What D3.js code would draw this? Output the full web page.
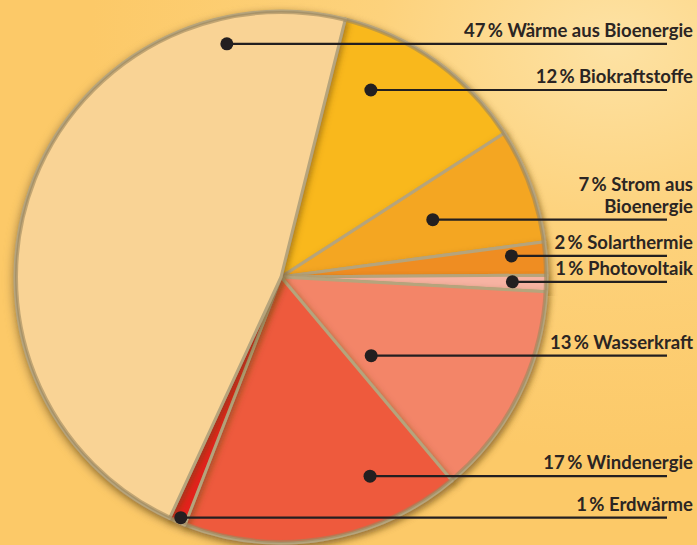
<!DOCTYPE html>
<html>
<head>
<meta charset="utf-8">
<script src="https://cdn.jsdelivr.net/npm/d3@7"></script>
<style>
  body { margin: 0; background: #fcca6a; }
  svg { display: block; }
</style>
</head>
<body>
<svg id="chart" width="697" height="545"></svg>
<script>
  var width = 697, height = 545

  // Anteile erneuerbarer Energien (Prozent), im Uhrzeigersinn ab 12 Uhr
  var sources = ["Biokraftstoffe", "Strom aus Bioenergie", "Solarthermie", "Photovoltaik",
                 "Wasserkraft", "Windenergie", "Erdwärme", "Wärme aus Bioenergie"]
  var shares = [12, 7, 2, 1, 13, 17, 1, 47]
  var colors = ["#f9b81b", "#f4a620", "#ef8d23", "#f7b3a2",
                "#f38567", "#ee5a3e", "#e3201b", "#f9d395"]
  // label text lines (Strom aus Bioenergie wraps)
  var labelLines = [["Biokraftstoffe"], ["Strom aus", "Bioenergie"], ["Solarthermie"], ["Photovoltaik"],
                    ["Wasserkraft"], ["Windenergie"], ["Erdwärme"], ["Wärme aus Bioenergie"]]

  // where the dot sits inside each slice: share of the slice angle, share of the radius
  var dotT = [0.27, 0.48, 0.33, 0.44, 0.81, 0.26, 0.39, 0.84]
  var dotR = [0.78, 0.61, 0.87, 0.87, 0.45, 0.82, 0.98, 0.90]

  var cx = 281, cy = 277, radius = 266
  var lineEnd = 667, textRight = 693

  var svg = d3.select("#chart")
  var defs = svg.append("defs")

  var bg = defs.append("radialGradient").attr("id", "bg")
    .attr("cx", "0.88").attr("cy", "0.08").attr("r", "0.75")
  bg.append("stop").attr("offset", "0").attr("stop-color", "#fde2a4")
  bg.append("stop").attr("offset", "0.45").attr("stop-color", "#fdd27c")
  bg.append("stop").attr("offset", "1").attr("stop-color", "#fcc968")

  var sh = defs.append("filter").attr("id", "shadow")
    .attr("x", "-20%").attr("y", "-20%").attr("width", "140%").attr("height", "140%")
  sh.append("feDropShadow").attr("dx", 2).attr("dy", 3).attr("stdDeviation", 3)
    .attr("flood-color", "#6b4a10").attr("flood-opacity", 0.55)

  var blur = defs.append("filter").attr("id", "blur")
    .attr("x", "-20%").attr("y", "-20%").attr("width", "140%").attr("height", "140%")
  blur.append("feGaussianBlur").attr("stdDeviation", 4)

  svg.append("rect").attr("width", width).attr("height", height).attr("fill", "url(#bg)")

  var pie = d3.pie().sort(null)
    .startAngle(14 * Math.PI / 180)
    .endAngle(14 * Math.PI / 180 + 2 * Math.PI)

  var arc = d3.arc().innerRadius(0).outerRadius(radius)

  var arcs = pie(shares)

  var g = svg.append("g").attr("transform", "translate(" + cx + "," + cy + ")")

  // soft shadow under the whole disc
  g.append("circle").attr("r", radius + 2).attr("cx", -2).attr("cy", 3)
    .attr("fill", "#a8864a").attr("opacity", 0.6)
    .attr("filter", "url(#blur)")

  g.selectAll("path.slice")
    .data(arcs)
    .enter()
    .append("path")
    .attr("class", "slice")
    .attr("d", arc)
    .attr("fill", function(d, i) { return colors[i] })
    .attr("stroke", "#b6a47c")
    .attr("stroke-width", 3)
    .attr("stroke-linejoin", "round")
    .attr("filter", "url(#shadow)")

  // dark rim along the outer edge
  g.append("circle").attr("r", radius - 1.5).attr("fill", "none")
    .attr("stroke", "#9c875e").attr("stroke-width", 3).attr("opacity", 0.6)

  function dotPos(d, i) {
    var a = d.startAngle + dotT[i] * (d.endAngle - d.startAngle)
    var r = dotR[i] * radius
    return [cx + r * Math.sin(a), cy - r * Math.cos(a)]
  }

  var labels = svg.append("g")
  arcs.forEach(function(d, i) {
    var p = dotPos(d, i)
    labels.append("line")
      .attr("x1", p[0]).attr("y1", p[1])
      .attr("x2", lineEnd).attr("y2", p[1])
      .attr("stroke", "#231f20").attr("stroke-width", 2.2)
    labels.append("circle")
      .attr("cx", p[0]).attr("cy", p[1]).attr("r", 6.5)
      .attr("fill", "#231f20")

    var lines = labelLines[i]
    var t = labels.append("text")
      .attr("x", textRight)
      .attr("y", p[1] - 7 - (lines.length - 1) * 22)
      .attr("text-anchor", "end")
      .attr("font-family", "Lato, 'Open Sans', sans-serif")
      .attr("font-weight", "bold")
      .attr("font-size", 18.5)
      .attr("fill", "#2b2523")
    lines.forEach(function(s, k) {
      t.append("tspan")
        .attr("x", textRight)
        .attr("dy", k ? 22 : 0)
        .text(k ? s : shares[i] + "\u2009% " + s)
    })
  })
</script>
</body>
</html>
